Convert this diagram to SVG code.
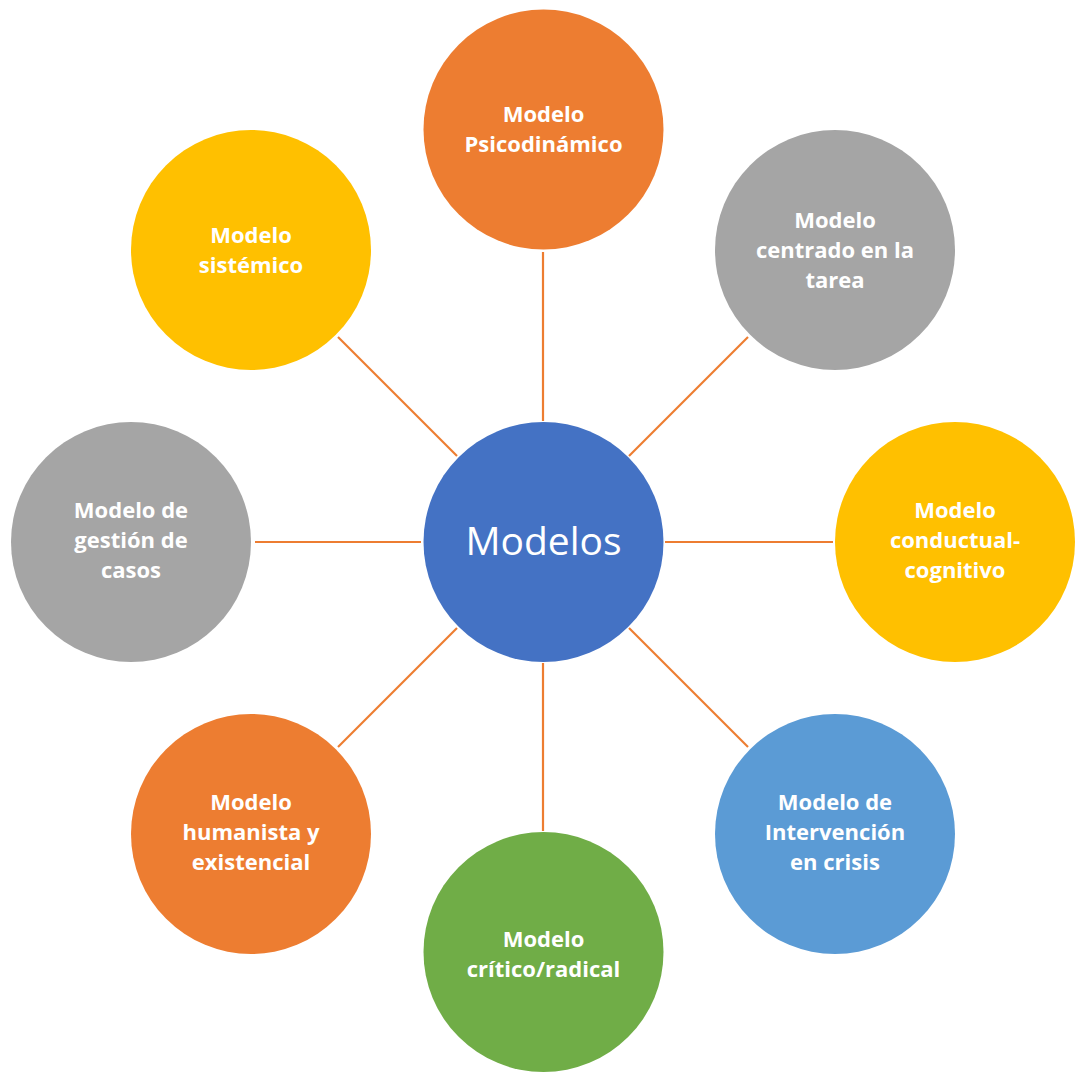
<svg xmlns="http://www.w3.org/2000/svg" width="1081" height="1073" viewBox="0 0 1081 1073">
<style>
.n text{font-family:"Open Sans","Liberation Sans",sans-serif;font-weight:bold;font-size:22px;fill:#fff;text-anchor:middle}
.c line{stroke:#ED7D31;stroke-width:2.2}
.orange{fill:#ED7D31}.gray{fill:#A5A5A5}.yellow{fill:#FFC000}.lblue{fill:#5B9BD5}.green{fill:#70AD47}.blue{fill:#4472C4}
</style>
<rect width="1081" height="1073" fill="#fff"/>
<g class="c" id="connectors">
<line x1="543" y1="252" x2="543" y2="421"/>
<line x1="748" y1="337" x2="629" y2="456"/>
<line x1="665" y1="542" x2="833" y2="542"/>
<line x1="629" y1="628" x2="748" y2="747"/>
<line x1="543" y1="663" x2="543" y2="831"/>
<line x1="457" y1="628" x2="338" y2="747"/>
<line x1="255" y1="542" x2="421" y2="542"/>
<line x1="338" y1="337" x2="457" y2="456"/>
</g>
<g class="n" id="center"><circle class="blue" cx="543.5" cy="542" r="120"/><text x="543.5" y="555" style="font-weight:normal;font-size:39px">Modelos</text></g>
<g class="n" id="psicodinamico"><circle class="orange" cx="543.5" cy="129.5" r="120"/><text x="543.5" y="122">Modelo</text><text x="543.5" y="152">Psicodinámico</text></g>
<g class="n" id="tarea"><circle class="gray" cx="835" cy="250" r="120"/><text x="835" y="228">Modelo</text><text x="835" y="258">centrado en la</text><text x="835" y="288">tarea</text></g>
<g class="n" id="conductual"><circle class="yellow" cx="955" cy="542" r="120"/><text x="955" y="518">Modelo</text><text x="955" y="548">conductual-</text><text x="955" y="578">cognitivo</text></g>
<g class="n" id="crisis"><circle class="lblue" cx="835" cy="834" r="120"/><text x="835" y="810">Modelo de</text><text x="835" y="840">Intervención</text><text x="835" y="870">en crisis</text></g>
<g class="n" id="critico"><circle class="green" cx="543.5" cy="952" r="120"/><text x="543.5" y="947">Modelo</text><text x="543.5" y="977">crítico/radical</text></g>
<g class="n" id="humanista"><circle class="orange" cx="251" cy="834" r="120"/><text x="251" y="810">Modelo</text><text x="251" y="840">humanista y</text><text x="251" y="870">existencial</text></g>
<g class="n" id="gestion"><circle class="gray" cx="131" cy="542" r="120"/><text x="131" y="518">Modelo de</text><text x="131" y="548">gestión de</text><text x="131" y="578">casos</text></g>
<g class="n" id="sistemico"><circle class="yellow" cx="251" cy="250" r="120"/><text x="251" y="243">Modelo</text><text x="251" y="273">sistémico</text></g>
</svg>
